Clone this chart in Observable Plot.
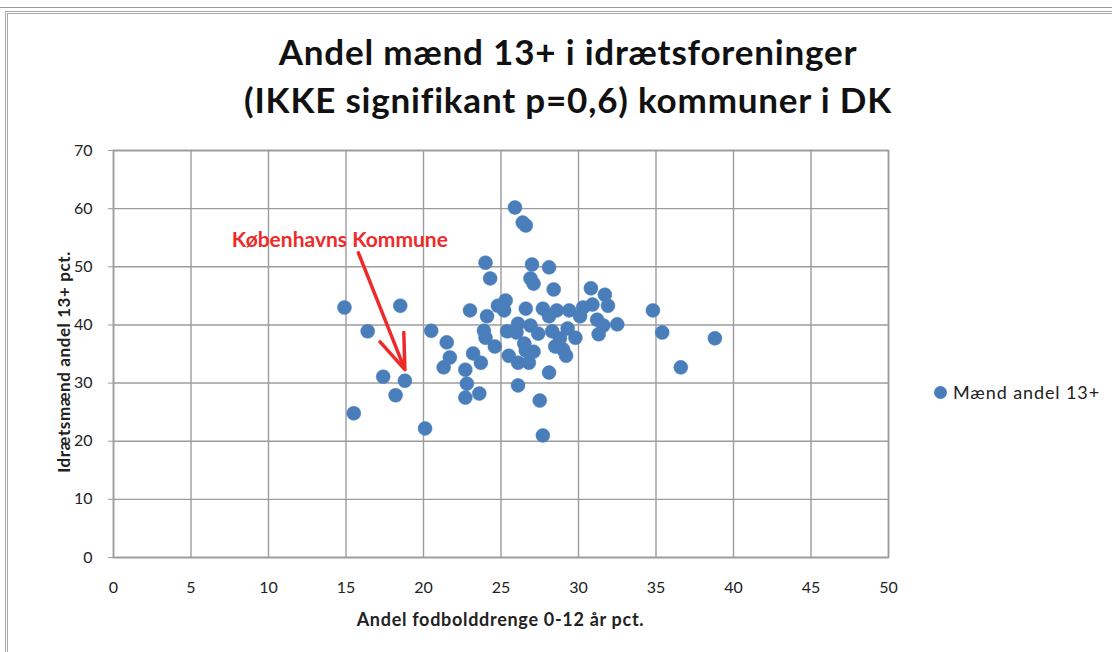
<!DOCTYPE html>
<html>
<head>
<meta charset="utf-8">
<script src="https://cdn.jsdelivr.net/npm/d3@7"></script>
<script src="https://cdn.jsdelivr.net/npm/@observablehq/plot@0.6"></script>
<style>
  body { margin: 0; background: #fff; font-family: Lato, "Open Sans", sans-serif; }
  #wrap { position: relative; width: 1112px; height: 652px; overflow: hidden; background: #fff; }
  #topstrip { position: absolute; left: 0; top: 0; width: 1112px; height: 7px; border-bottom: 1px solid #9a9a9a; }
  #box { position: absolute; left: 5px; top: 11px; width: 1112px; height: 650px; border-top: 3px double #a8a8a8; border-left: 3px double #a8a8a8; }
  #title { position: absolute; left: 0; width: 1136px; top: 27px; text-align: center; font-weight: bold; font-size: 35px; letter-spacing: 0.8px; line-height: 48px; color: #111; }
  #chart { position: absolute; left: 0; top: 0; }
  #xlabel { position: absolute; left: 113px; width: 775px; top: 608px; text-align: center; font-weight: bold; font-size: 18px; letter-spacing: 0.7px; color: #222; }
  #ylabel { position: absolute; left: 63px; top: 362px; transform: translate(-50%, -50%) rotate(-90deg); white-space: nowrap; font-weight: bold; font-size: 17px; letter-spacing: 0.6px; color: #222; }
  #legend { position: absolute; left: 934px; top: 381px; font-size: 18px; letter-spacing: 0.9px; color: #222; display: flex; align-items: center; }
  #legend .dot { display: inline-block; width: 13px; height: 13px; border-radius: 50%; background: #4a7ebb; margin-right: 6px; }
</style>
</head>
<body>
<div id="wrap">
  <div id="topstrip"></div>
  <div id="box"></div>
  <div id="title">Andel mænd 13+ i idrætsforeninger<br>(IKKE signifikant p=0,6) kommuner i DK</div>
  <div id="chart"></div>
  <div id="xlabel">Andel fodbolddrenge 0-12 år pct.</div>
  <div id="ylabel">Idrætsmænd andel 13+ pct.</div>
  <div id="legend"><span class="dot"></span><span id="legendText">Mænd andel 13+</span></div>
</div>
<script>
// Data: andel fodbolddrenge 0-12 år (x) vs. andel mænd 13+ i idrætsforeninger (y)
const fodbolddrenge = [
  14.9, 15.5, 16.4, 17.4, 18.2, 18.5, 18.8, 20.1, 20.5, 21.5,
  21.7, 21.3, 22.7, 23.0, 23.2, 23.7, 22.8, 22.7, 23.6, 24.0,
  24.3, 24.1, 23.9, 24.0, 24.6, 24.8, 25.3, 25.2, 25.4, 25.5,
  25.9, 26.4, 26.6, 26.1, 26.0, 26.1, 26.1, 26.6, 26.5, 27.1,
  26.8, 27.0, 26.9, 27.1, 26.9, 27.4, 26.6, 27.5, 27.7, 27.7,
  28.1, 28.1, 28.4, 28.1, 28.3, 28.6, 28.8, 28.5, 29.0, 29.2,
  29.4, 29.3, 29.8, 30.1, 30.3, 30.8, 30.9, 31.2, 31.6, 31.7,
  31.9, 31.3, 32.5, 34.8, 35.4, 36.6, 38.8
];
const maendAndel = [
  43.0, 24.8, 38.9, 31.1, 27.9, 43.3, 30.4, 22.2, 39.0, 37.0,
  34.4, 32.7, 32.3, 42.5, 35.1, 33.5, 29.9, 27.5, 28.2, 50.7,
  48.0, 41.5, 39.0, 37.8, 36.3, 43.3, 44.2, 42.5, 38.9, 34.7,
  60.2, 57.6, 57.1, 40.2, 38.7, 33.5, 29.6, 42.8, 36.8, 35.4,
  33.5, 50.4, 48.0, 47.1, 39.9, 38.5, 35.6, 27.0, 21.0, 42.8,
  41.5, 49.9, 46.1, 31.8, 38.9, 42.5, 37.7, 36.3, 35.8, 34.7,
  42.5, 39.4, 37.8, 41.5, 43.0, 46.3, 43.5, 40.9, 39.9, 45.2,
  43.3, 38.4, 40.1, 42.5, 38.7, 32.7, 37.7
];
const xTicks = [0, 5, 10, 15, 20, 25, 30, 35, 40, 45, 50];
const yTicks = [0, 10, 20, 30, 40, 50, 60, 70];
const seriesName = "Mænd andel 13+";

// Annotation: Københavns Kommune
const annotationLabel = ["Københavns Kommune"];
const annotationTextPos = [14.6, 54.6];
const arrowFrom = [15.8, 52.4];
const arrowTo = [18.8, 32.3];

const points = fodbolddrenge.map((x, i) => ({x, y: maendAndel[i]}));
const annot = [{text: annotationLabel[0], x: annotationTextPos[0], y: annotationTextPos[1]}];
const arrows = [{x1: arrowFrom[0], y1: arrowFrom[1], x2: arrowTo[0], y2: arrowTo[1]}];

const grid = "#9c9c9c";
const chart = Plot.plot({
  width: 1112,
  height: 652,
  marginLeft: 113,
  marginRight: 224,
  marginTop: 150,
  marginBottom: 95,
  style: {fontFamily: "Lato, 'Open Sans', sans-serif", fontSize: "16px", color: "#222", background: "transparent"},
  x: {domain: [0, 50], ticks: xTicks},
  y: {domain: [0, 70], ticks: yTicks},
  marks: [
    Plot.gridX(xTicks, {stroke: grid, strokeOpacity: 1, strokeWidth: 1.4}),
    Plot.gridY(yTicks, {stroke: grid, strokeOpacity: 1, strokeWidth: 1.4}),
    Plot.frame({stroke: grid, strokeWidth: 1.6}),
    Plot.axisX({ticks: xTicks, tickSize: 0, tickPadding: 24, label: null, fill: "#222"}),
    Plot.axisY({ticks: yTicks, tickSize: 5, tickPadding: 16, label: null, stroke: grid, fill: "#222"}),
    Plot.dot(points, {x: "x", y: "y", r: 7, fill: "#4a7ebb", stroke: "#4a7ebb", strokeWidth: 0.5}),
    Plot.arrow(arrows, {x1: "x1", y1: "y1", x2: "x2", y2: "y2", stroke: "#ee2a2a", strokeWidth: 3.5, headLength: 16, headAngle: 40, inset: 0}),
    Plot.text(annot, {x: "x", y: "y", text: "text", fill: "#ee2a2a", fontWeight: "bold", fontSize: 21, letterSpacing: "0.6px"})
  ]
});
document.getElementById("chart").appendChild(chart);
</script>
</body>
</html>
